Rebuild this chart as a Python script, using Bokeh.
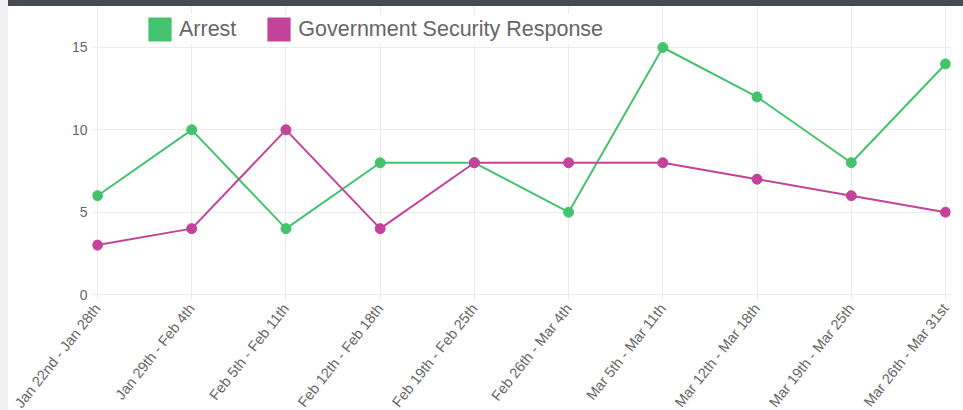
from bokeh.plotting import figure
from bokeh.models import FixedTicker, Legend, LegendItem, Range1d, ColumnDataSource
from bokeh.embed import file_html
from bokeh.resources import INLINE

# ---- data ----
periods = [
    "Jan 22nd - Jan 28th", "Jan 29th - Feb 4th", "Feb 5th - Feb 11th",
    "Feb 12th - Feb 18th", "Feb 19th - Feb 25th", "Feb 26th - Mar 4th",
    "Mar 5th - Mar 11th", "Mar 12th - Mar 18th", "Mar 19th - Mar 25th",
    "Mar 26th - Mar 31st",
]
arrest = [6, 10, 4, 8, 8, 5, 15, 12, 8, 14]
gov_response = [3, 4, 10, 4, 8, 8, 8, 7, 6, 5]
y_ticks = [0, 5, 10, 15]
series_names = ["Arrest", "Government Security Response"]

GREEN = "#43c36c"
MAGENTA = "#c3439a"
GRID = "#ebebeb"
TEXT = "#666666"
FONT = "Liberation Sans"

idx = list(range(len(periods)))
src = ColumnDataSource(dict(x=idx, arrest=arrest, gov=gov_response))

p = figure(
    frame_width=858, frame_height=300,
    output_backend="svg", toolbar_location=None,
    x_range=Range1d(-0.0531, 9.0531),
    y_range=Range1d(-0.364, 17.854),
    min_border_left=84, min_border_right=13,
    min_border_top=0, min_border_bottom=110,
    background_fill_color="white", border_fill_color="white",
    outline_line_color=None,
)

# axes
p.xaxis.ticker = FixedTicker(ticks=idx)
p.xaxis.major_label_overrides = {i: lab for i, lab in enumerate(periods)}
p.xaxis.major_label_orientation = 0.899
p.yaxis.ticker = FixedTicker(ticks=y_ticks)
for ax in (p.xaxis, p.yaxis):
    ax.axis_line_color = None
    ax.major_tick_line_color = None
    ax.minor_tick_line_color = None
    ax.major_tick_out = 0
    ax.major_tick_in = 0
    ax.major_label_text_font = FONT
    ax.major_label_text_color = TEXT
p.xaxis.major_label_text_font_size = "14.5px"
p.yaxis.major_label_text_font_size = "14px"
p.xaxis.major_label_standoff = 5
p.yaxis.major_label_standoff = 5

p.xgrid.ticker = FixedTicker(ticks=idx)
p.ygrid.ticker = FixedTicker(ticks=y_ticks)
p.grid.grid_line_color = GRID
p.grid.grid_line_width = 1

# legend swatches: zero-area quads on the data (invisible in the plot)
box_a = p.quad(left="x", right="x", top="arrest", bottom="arrest", source=src,
               fill_color=GREEN, line_color=None)
box_g = p.quad(left="x", right="x", top="gov", bottom="gov", source=src,
               fill_color=MAGENTA, line_color=None)

# series
p.line("x", "arrest", source=src, line_color=GREEN, line_width=2)
p.scatter("x", "arrest", source=src, size=10, fill_color=GREEN, line_color=GREEN)
p.line("x", "gov", source=src, line_color=MAGENTA, line_width=2)
p.scatter("x", "gov", source=src, size=10, fill_color=MAGENTA, line_color=MAGENTA)

legend = Legend(
    items=[LegendItem(label=series_names[0], renderers=[box_a]),
           LegendItem(label=series_names[1], renderers=[box_g])],
    orientation="horizontal",
    location=(53, 256),
    glyph_width=29, glyph_height=30,
    padding=9, spacing=28, label_standoff=5, margin=0,
    label_text_font=FONT, label_text_font_size="21.5px",
    label_text_color=TEXT,
    background_fill_color="white", background_fill_alpha=1.0,
    border_line_color=None,
)
p.add_layout(legend, "center")

html = file_html(p, INLINE)
style = (
    "<style>html,body{overflow:hidden}"
    "html{background:linear-gradient(to right,#f0f0f2 0,#f0f0f2 8px,#ffffff 8px)}"
    "body{padding-left:8px !important}"
    "body::before{content:'';position:fixed;left:8px;right:0;top:0;height:6px;"
    "background:#484b4f;z-index:10}</style>"
)
html = html.replace("</head>", style + "</head>", 1)
open("out.html", "w").write(html)
